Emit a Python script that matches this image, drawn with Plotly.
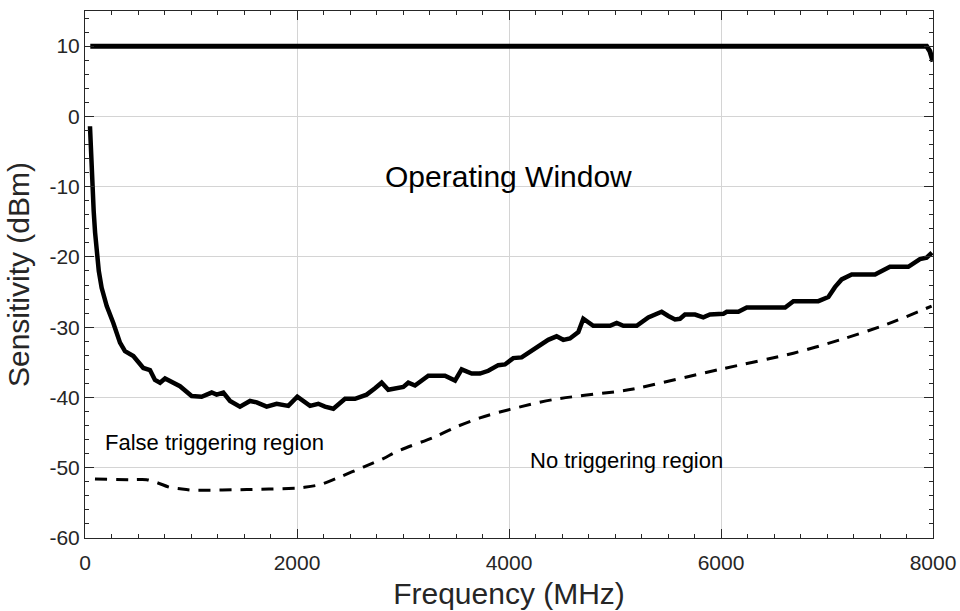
import plotly.graph_objects as go

# Upper limit line (saturation)
upper_freq = [50, 7940, 7970, 8000]
upper_sens = [10, 10, 9.3, 7.8]

# Measured sensitivity (solid)
sens_freq = [47, 58, 70, 82, 95, 110, 130, 157, 205, 267, 330, 377, 456, 550, 613, 660, 708, 755,
             896, 1006, 1100, 1195, 1242, 1305, 1368, 1462, 1557, 1620, 1714, 1808,
             1918, 2003, 2123, 2201, 2264, 2343, 2453, 2547, 2657, 2736, 2799, 2861,
             2940, 3003, 3050, 3113, 3239, 3396, 3491, 3553, 3648, 3726, 3805, 3899,
             3962, 4040, 4119, 4213, 4276, 4370, 4449, 4512, 4575, 4654, 4701, 4795,
             4953, 5016, 5079, 5205, 5314, 5440, 5503, 5566, 5613, 5660, 5755, 5833,
             5896, 6022, 6054, 6164, 6243, 6605, 6683, 6918, 7013, 7075, 7138, 7233,
             7453, 7594, 7767, 7877, 7940, 7990]
sens_dbm = [-1.4, -6.5, -10.5, -13.5, -16.5, -19.2, -22.0, -24.4, -27.0, -29.4, -32.2, -33.4, -34.1, -35.8,
            -36.1, -37.5, -37.9, -37.3, -38.4, -39.8, -39.9, -39.3, -39.6, -39.3, -40.5,
            -41.3, -40.5, -40.7, -41.3, -40.9, -41.2, -39.9, -41.2, -40.9, -41.3, -41.6,
            -40.2, -40.2, -39.6, -38.7, -37.9, -38.9, -38.7, -38.5, -37.9, -38.3, -36.9,
            -36.9, -37.6, -36.0, -36.6, -36.6, -36.2, -35.4, -35.3, -34.4, -34.3, -33.3,
            -32.8, -31.8, -31.3, -31.8, -31.6, -30.7, -28.8, -29.8, -29.8, -29.4, -29.8,
            -29.8, -28.6, -27.8, -28.4, -28.9, -28.8, -28.2, -28.2, -28.6, -28.2, -28.1,
            -27.8, -27.8, -27.2, -27.2, -26.3, -26.3, -25.7, -24.3, -23.2, -22.5, -22.5,
            -21.4, -21.4, -20.3, -20.1, -19.4]

# Triggering threshold (dashed)
thr_freq = [94, 440, 582, 676, 802, 896, 1022, 1525, 1997, 2060, 2217, 2406, 2626, 2814,
            2940, 3300, 3500, 3726, 4009, 4418, 5047, 5173, 5990, 6683, 7123, 7563, 7987]
thr_dbm = [-51.6, -51.7, -51.7, -52.1, -52.8, -53.0, -53.2, -53.1, -52.9, -52.8, -52.4,
           -51.3, -49.9, -48.7, -47.7, -45.6, -44.2, -42.9, -41.7, -40.3, -39.1, -38.8,
           -36.0, -33.7, -31.8, -29.6, -27.0]

x_ticks = [0, 2000, 4000, 6000, 8000]
y_ticks = [-60, -50, -40, -30, -20, -10, 0, 10]

FONT = "Liberation Sans, Arial, sans-serif"
AXC = "#262626"

fig = go.Figure()
fig.add_trace(go.Scatter(x=upper_freq, y=upper_sens, mode="lines",
                         line=dict(color="black", width=5), showlegend=False))
fig.add_trace(go.Scatter(x=sens_freq, y=sens_dbm, mode="lines",
                         line=dict(color="black", width=4.5),
                         showlegend=False))
fig.add_trace(go.Scatter(x=thr_freq, y=thr_dbm, mode="lines",
                         line=dict(color="black", width=3, dash="12px,9px", shape="spline", smoothing=0.8),
                         showlegend=False))

fig.add_annotation(x=2811, y=-8.5, text="Operating Window", showarrow=False,
                   xanchor="left", yanchor="middle", font=dict(size=30, color="black", family=FONT))
fig.add_annotation(x=170, y=-46.4, text="False triggering region", showarrow=False,
                   xanchor="left", yanchor="middle", font=dict(size=22, color="black", family=FONT))
fig.add_annotation(x=4179, y=-49.0, text="No triggering region", showarrow=False,
                   xanchor="left", yanchor="middle", font=dict(size=22, color="black", family=FONT))

axis_common = dict(
    showline=True, linecolor=AXC, linewidth=1, mirror="allticks",
    ticks="inside", ticklen=9, tickcolor=AXC, tickwidth=1,
    showgrid=True, gridcolor="#d4d4d4", gridwidth=1, zeroline=False,
    tickfont=dict(size=21, color=AXC, family=FONT), automargin=False,
)

fig.update_xaxes(range=[0, 8000], tickvals=x_ticks, ticktext=[str(v) for v in x_ticks],
                 title=dict(text="Frequency (MHz)", font=dict(size=30, color=AXC, family=FONT), standoff=9),
                 ticklabelstandoff=6,
                 minor=dict(ticks="inside", ticklen=4, dtick=250, tickcolor=AXC, showgrid=False),
                 **axis_common)
fig.update_yaxes(range=[-60, 15], tickvals=y_ticks, ticktext=[str(v) for v in y_ticks],
                 title=dict(text="Sensitivity (dBm)", font=dict(size=30, color=AXC, family=FONT), standoff=10),
                 minor=dict(ticks="inside", ticklen=4, dtick=2, tickcolor=AXC, showgrid=False),
                 **axis_common)

fig.update_layout(width=960, height=611, margin=dict(l=85, r=27, t=11, b=73),
                  plot_bgcolor="white", paper_bgcolor="white", font=dict(family=FONT))

fig.write_html("out.html", config={"displayModeBar": False},
               post_script="document.body.style.margin='0';document.body.style.padding='0';")
